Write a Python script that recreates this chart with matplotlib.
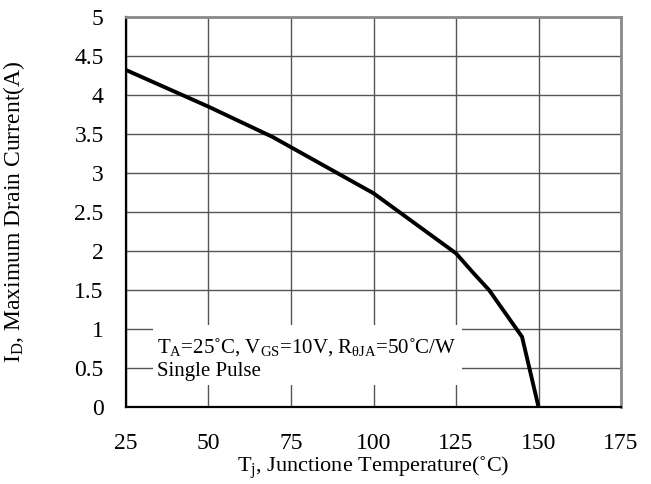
import numpy as np
import matplotlib
matplotlib.use('Agg')
import matplotlib.pyplot as plt
from matplotlib.patches import Rectangle

plt.rcParams['font.family'] = 'Liberation Serif'
plt.rcParams['mathtext.fontset'] = 'custom'
plt.rcParams['mathtext.rm'] = 'Liberation Serif'
plt.rcParams['mathtext.it'] = 'Liberation Serif'

# derating curve, Tj (C) vs max drain current (A)
tj = [25, 50, 69.5, 100, 125, 130, 135, 145, 150]
id_max = [4.32, 3.85, 3.46, 2.74, 1.97, 1.73, 1.50, 0.90, 0.0]

x_ticks = [25, 50, 75, 100, 125, 150, 175]
y_ticks = [0, 0.5, 1, 1.5, 2, 2.5, 3, 3.5, 4, 4.5, 5]
y_tick_labels = ['0', '0.5', '1', '1.5', '2', '2.5', '3', '3.5', '4', '4.5', '5']

fig = plt.figure(figsize=(6.51, 4.84), dpi=100)
ax = fig.add_axes([0.1935, 0.159, 0.7605, 0.806])

ax.plot(tj, id_max, color='black', lw=2.8, solid_joinstyle='miter', zorder=2)

ax.set_xlim(25, 175)
ax.set_ylim(0, 5)
ax.set_xticks(x_ticks)
ax.set_yticks(y_ticks)
ax.set_yticklabels(y_tick_labels)
ax.tick_params(length=0, labelsize=17)
ax.tick_params(axis='x', pad=19)
ax.tick_params(axis='y', pad=16)

ax.set_axisbelow(True)
ax.grid(True, color='#555555', lw=1.0)

for s in ['left', 'bottom']:
    ax.spines[s].set_color('black')
    ax.spines[s].set_linewidth(1.6)
for s in ['top', 'right']:
    ax.spines[s].set_color('#8a8a8a')
    ax.spines[s].set_linewidth(2.0)

# white box behind the test conditions
ax.add_patch(Rectangle((33.2, 0.28), 93.6, 0.77, facecolor='white',
                       edgecolor='none', zorder=1.5))
ax.text(34.4, 0.77,
        r'T$_\mathregular{A}$=25˚C, V$_\mathregular{GS}$=10V, R$_\mathregular{\theta JA}$=50˚C/W',
        fontsize=15, va='center', ha='left', zorder=3)
ax.text(34.4, 0.45, 'Single Pulse', fontsize=15, va='center', ha='left', zorder=3)

ax.set_xlabel(r'T$_\mathregular{j}$, Junctione Temperature(˚C)', fontsize=16, labelpad=0)
ax.set_ylabel(r'I$_\mathregular{D}$, Maximum Drain Current(A)', fontsize=17, labelpad=34)

plt.savefig('out.png', dpi=100)
